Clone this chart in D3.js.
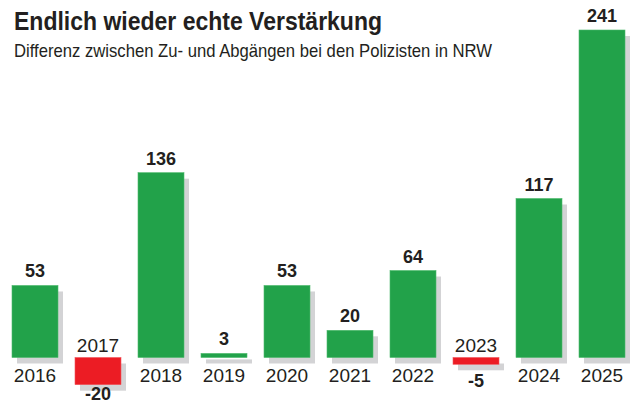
<!DOCTYPE html>
<html>
<head>
<meta charset="utf-8">
<script src="https://cdn.jsdelivr.net/npm/d3@7"></script>
<style>
  body { margin: 0; background: #fff; }
  svg { display: block; }
</style>
</head>
<body>
<div class="chart"></div>
<script>
var years = ["2016", "2017", "2018", "2019", "2020", "2021", "2022", "2023", "2024", "2025"];
var values = [53, -20, 136, 3, 53, 20, 64, -5, 117, 241];

var width = 632, height = 405;
var sans = "'Liberation Sans', Arial, sans-serif";
var ink = "#231f20";

var svg = d3.select(".chart").append("svg")
  .attr("width", width)
  .attr("height", height);

// title + subtitle, squeezed to the condensed width of the original
svg.append("text")
  .attr("x", 14).attr("y", 30)
  .attr("textLength", 368)
  .attr("lengthAdjust", "spacingAndGlyphs")
  .style("font", "bold 25px " + sans)
  .attr("fill", ink)
  .text("Endlich wieder echte Verstärkung");
svg.append("text")
  .attr("x", 14).attr("y", 57)
  .attr("textLength", 478)
  .attr("lengthAdjust", "spacingAndGlyphs")
  .style("font", "19px " + sans)
  .attr("fill", ink)
  .text("Differenz zwischen Zu- und Abgängen bei den Polizisten in NRW");

// scales
var x = d3.scaleBand()
  .domain(years)
  .range([12, 625])
  .paddingInner(0.27)
  .paddingOuter(0);
var y = d3.scaleLinear()
  .domain([0, 241])
  .range([357.5, 30]);

var data = years.map((d, i) => ({ year: d, value: values[i] }));

// shadows
svg.append("g").selectAll("rect")
  .data(data)
  .join("rect")
  .attr("x", d => x(d.year) + 5)
  .attr("y", d => Math.min(y(d.value), y(0)) + 6)
  .attr("width", x.bandwidth())
  .attr("height", d => Math.abs(y(d.value) - y(0)))
  .attr("fill", "#d3d3d5");

// bars
svg.append("g").selectAll("rect")
  .data(data)
  .join("rect")
  .attr("x", d => x(d.year))
  .attr("y", d => Math.min(y(d.value), y(0)))
  .attr("width", x.bandwidth())
  .attr("height", d => Math.abs(y(d.value) - y(0)))
  .attr("fill", d => d.value < 0 ? "#ec1c24" : "#22a24a")
  .attr("stroke", d => d.value < 0 ? "#f2555b" : "#4cb96b")
  .attr("stroke-width", 0.6);

// value labels (negatives go under the bar, kept inside the frame)
svg.append("g").selectAll("text")
  .data(data)
  .join("text")
  .attr("x", d => x(d.year) + x.bandwidth() / 2)
  .attr("y", d => d.value < 0 ? Math.min(y(d.value) + 23, 400) : y(d.value) - 8)
  .attr("text-anchor", "middle")
  .style("font", "bold 18px " + sans)
  .attr("fill", ink)
  .text(d => d.value);

// year labels
svg.append("g").selectAll("text")
  .data(data)
  .join("text")
  .attr("x", d => x(d.year) + x.bandwidth() / 2)
  .attr("y", d => d.value < 0 ? y(0) - 6 : 382)
  .attr("text-anchor", "middle")
  .style("font", "19px " + sans)
  .attr("fill", ink)
  .text(d => d.year);
</script>
</body>
</html>
